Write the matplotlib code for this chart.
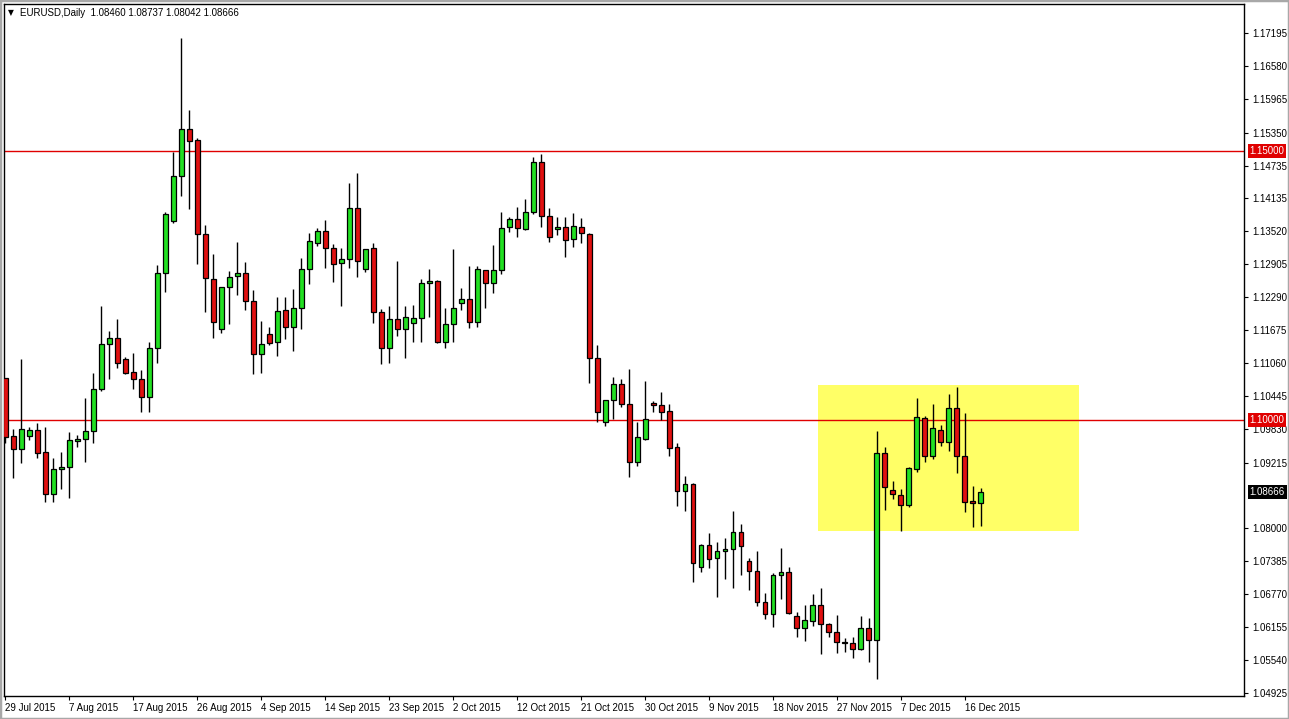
import matplotlib
matplotlib.use("Agg")
import matplotlib.pyplot as plt
import matplotlib.patches as patches
import matplotlib.transforms as mtransforms
import numpy as np

opens = [1.10787, 1.09708, 1.09467, 1.09708, 1.09820, 1.09411, 1.08630, 1.09095, 1.09132, 1.09615,
         1.09653, 1.09801, 1.10582, 1.11419, 1.11530, 1.11140, 1.10898, 1.10768, 1.10433, 1.11344,
         1.12739, 1.13705, 1.14542, 1.15416, 1.15211, 1.13464, 1.12627, 1.11698, 1.12478, 1.12683,
         1.12739, 1.12218, 1.11233, 1.11605, 1.11456, 1.12051, 1.11735, 1.12088, 1.12813, 1.13296,
         1.13520, 1.13203, 1.12925, 1.12999, 1.13947, 1.12813, 1.13203, 1.12014, 1.11344, 1.11884,
         1.11698, 1.11809, 1.11902, 1.12553, 1.12590, 1.11456, 1.11791, 1.12181, 1.12255, 1.11828,
         1.12794, 1.12553, 1.12794, 1.13594, 1.13743, 1.13557, 1.13873, 1.14802, 1.13798, 1.13557,
         1.13594, 1.13371, 1.13594, 1.13464, 1.11158, 1.09969, 1.10378, 1.10675, 1.10303, 1.09225,
         1.09653, 1.10322, 1.10285, 1.10173, 1.09504, 1.08686, 1.08816, 1.07273, 1.07682, 1.07440,
         1.07570, 1.07608, 1.07924, 1.07385, 1.07199, 1.06622, 1.06399, 1.07124, 1.07180, 1.06362,
         1.06139, 1.06269, 1.06567, 1.06213, 1.06065, 1.05879, 1.05860, 1.05748, 1.06139, 1.05916,
         1.09392, 1.08705, 1.08612, 1.08426, 1.09095, 1.10043, 1.09337, 1.09820, 1.09597, 1.10229,
         1.09337, 1.08500, 1.08460]
highs = [1.10787, 1.09839, 1.11140, 1.09876, 1.09950, 1.09876, 1.09299, 1.09411, 1.09783, 1.09727,
         1.10415, 1.10880, 1.12125, 1.11660, 1.11884, 1.11177, 1.11251, 1.10935, 1.11456, 1.12887,
         1.13873, 1.14988, 1.17108, 1.15769, 1.15248, 1.13631, 1.13092, 1.12478, 1.12776, 1.13315,
         1.12943, 1.12423, 1.11846, 1.11735, 1.12293, 1.12293, 1.12441, 1.13018, 1.13482, 1.13575,
         1.13724, 1.13278, 1.13203, 1.14412, 1.14598, 1.13185, 1.13296, 1.12069, 1.12125, 1.12962,
         1.12125, 1.12144, 1.12627, 1.12813, 1.12609, 1.12088, 1.13185, 1.12460, 1.12869, 1.12869,
         1.12794, 1.13259, 1.13873, 1.13780, 1.13966, 1.14114, 1.14895, 1.14951, 1.13947, 1.13780,
         1.13780, 1.13854, 1.13761, 1.13482, 1.11400, 1.10378, 1.10805, 1.10768, 1.10954, 1.09969,
         1.10731, 1.10360, 1.10526, 1.10303, 1.09578, 1.08965, 1.08835, 1.07701, 1.07905, 1.07738,
         1.07812, 1.08314, 1.08072, 1.07440, 1.07570, 1.06790, 1.07161, 1.07626, 1.07273, 1.06436,
         1.06567, 1.06771, 1.06883, 1.06232, 1.06381, 1.05953, 1.05972, 1.06362, 1.06325, 1.09801,
         1.09504, 1.08872, 1.08723, 1.09132, 1.10415, 1.10080, 1.10303, 1.09913, 1.10489, 1.10619,
         1.10136, 1.08779, 1.08737]
lows = [1.09578, 1.08928, 1.09206, 1.09634, 1.09299, 1.08481, 1.08481, 1.08723, 1.08556, 1.09504,
        1.09225, 1.09578, 1.10545, 1.10768, 1.10973, 1.10861, 1.10582, 1.10155, 1.10155, 1.11066,
        1.12385, 1.13668, 1.14170, 1.13929, 1.12906, 1.12014, 1.11530, 1.11623, 1.11791, 1.12330,
        1.12051, 1.10861, 1.10880, 1.11400, 1.11196, 1.11512, 1.11289, 1.11698, 1.12534, 1.13241,
        1.12832, 1.12571, 1.12125, 1.12832, 1.12664, 1.12757, 1.11809, 1.11047, 1.11066, 1.11567,
        1.11158, 1.11456, 1.11456, 1.11921, 1.11440, 1.11344, 1.11456, 1.12051, 1.11716, 1.11735,
        1.12088, 1.12367, 1.12720, 1.13501, 1.13408, 1.13538, 1.13836, 1.13594, 1.13315, 1.13445,
        1.13036, 1.13222, 1.13296, 1.10694, 1.09969, 1.09894, 1.10024, 1.10248, 1.08946, 1.09151,
        1.09634, 1.10155, 1.10006, 1.09337, 1.08407, 1.08314, 1.06994, 1.07180, 1.07254, 1.06715,
        1.07050, 1.06883, 1.07124, 1.06845, 1.06548, 1.06306, 1.06157, 1.06678, 1.06399, 1.05972,
        1.05897, 1.06176, 1.05656, 1.05972, 1.05674, 1.05693, 1.05581, 1.05730, 1.05507, 1.05191,
        1.08333, 1.08537, 1.07942, 1.08388, 1.09039, 1.09225, 1.09281, 1.09523, 1.09430, 1.09021,
        1.08295, 1.08016, 1.08042]
closes = [1.09690, 1.09467, 1.09839, 1.09820, 1.09392, 1.08630, 1.09095, 1.09132, 1.09634, 1.09653,
          1.09801, 1.10582, 1.11419, 1.11530, 1.11066, 1.10880, 1.10768, 1.10433, 1.11344, 1.12739,
          1.13836, 1.14542, 1.15416, 1.15193, 1.13464, 1.12646, 1.11828, 1.12478, 1.12664, 1.12739,
          1.12218, 1.11233, 1.11419, 1.11437, 1.12032, 1.11735, 1.12088, 1.12813, 1.13334, 1.13520,
          1.13203, 1.12906, 1.12999, 1.13947, 1.12962, 1.13185, 1.12014, 1.11344, 1.11884, 1.11698,
          1.11921, 1.11902, 1.12553, 1.12590, 1.11456, 1.11791, 1.12088, 1.12255, 1.11828, 1.12813,
          1.12553, 1.12794, 1.13575, 1.13743, 1.13575, 1.13873, 1.14802, 1.13798, 1.13408, 1.13594,
          1.13352, 1.13612, 1.13482, 1.11158, 1.10155, 1.10378, 1.10675, 1.10303, 1.09225, 1.09690,
          1.10024, 1.10285, 1.10155, 1.09485, 1.08686, 1.08816, 1.07347, 1.07682, 1.07422, 1.07570,
          1.07608, 1.07924, 1.07663, 1.07199, 1.06622, 1.06399, 1.07124, 1.07180, 1.06418, 1.06139,
          1.06288, 1.06567, 1.06213, 1.06065, 1.05879, 1.05860, 1.05748, 1.06139, 1.05916, 1.09392,
          1.08760, 1.08630, 1.08426, 1.09113, 1.10062, 1.09337, 1.09857, 1.09597, 1.10229, 1.09337,
          1.08481, 1.08463, 1.08666]

date_labels = ["29 Jul 2015", "7 Aug 2015", "17 Aug 2015", "26 Aug 2015", "4 Sep 2015",
               "14 Sep 2015", "23 Sep 2015", "2 Oct 2015", "12 Oct 2015", "21 Oct 2015",
               "30 Oct 2015", "9 Nov 2015", "18 Nov 2015", "27 Nov 2015", "7 Dec 2015",
               "16 Dec 2015"]
price_ticks = [1.17195, 1.16580, 1.15965, 1.15350, 1.14735, 1.14135, 1.13520, 1.12905, 1.12290,
               1.11675, 1.11060, 1.10445, 1.09830, 1.09215, 1.08000, 1.07385, 1.06770, 1.06155,
               1.05540, 1.04925]
niveles = [1.15000, 1.10000]
ultimo = 1.08666

# zona amarilla (indices de barra / precios)
zona_x = (101.6, 134.3)
zona_y = (1.07948, 1.10657)

VERDE = "#22e022"
ROJO = "#e01010"
LINEA = "#e00000"

plt.rcParams["font.family"] = ["Liberation Sans", "DejaVu Sans"]

fig = plt.figure(figsize=(12.89, 7.19), dpi=100)
ax = fig.add_axes([4 / 1289, 23 / 719, 1240 / 1289, 692 / 719])

n = len(opens)
x = np.arange(n)
o = np.array(opens)
h = np.array(highs)
l = np.array(lows)
c = np.array(closes)

# zona
ax.add_patch(patches.Rectangle((zona_x[0], zona_y[0]), zona_x[1] - zona_x[0], zona_y[1] - zona_y[0],
                               facecolor="#ffff66", edgecolor="none", zorder=0))

# lineas horizontales
for nv in niveles:
    ax.axhline(nv, color=LINEA, lw=1, zorder=1)

# velas
ax.vlines(x, l, h, color="black", lw=1, zorder=2)
subida = c >= o
cuerpo = np.maximum(np.abs(c - o), 0.00005)
base = np.minimum(o, c)
colores = [VERDE if s else ROJO for s in subida]
ax.bar(x, cuerpo, bottom=base, width=0.62, color=colores, edgecolor="black", linewidth=0.9, zorder=3)

ax.set_xlim(-0.16, 154.9)
ax.set_ylim(1.04875, 1.17740)

# eje de precios a la derecha
ax.yaxis.tick_right()
ax.set_yticks(price_ticks)
ax.set_yticklabels([f"{p:.5f}" for p in price_ticks])
ax.tick_params(axis="y", direction="out", length=3, width=0.8, pad=3, labelsize=7)

ax.set_xticks(np.arange(len(date_labels)) * 8)
ax.set_xticklabels(date_labels)
ax.tick_params(axis="x", direction="out", length=3, width=0.8, pad=2, labelsize=7)
for t in ax.get_xticklabels():
    t.set_horizontalalignment("left")

for s in ax.spines.values():
    s.set_linewidth(1)
    s.set_color("black")

# etiquetas de precio sobre el eje
trans = mtransforms.blended_transform_factory(ax.transAxes, ax.transData)
for nv in niveles:
    ax.annotate(f"{nv:.5f}", xy=(1, nv), xycoords=trans, xytext=(4, 0), textcoords="offset points",
                va="center", ha="left", fontsize=7, color="white",
                bbox=dict(boxstyle="square,pad=0.2", fc=LINEA, ec="none"), annotation_clip=False)
ax.annotate(f"{ultimo:.5f}", xy=(1, ultimo), xycoords=trans, xytext=(4, 0), textcoords="offset points",
            va="center", ha="left", fontsize=7, color="white",
            bbox=dict(boxstyle="square,pad=0.2", fc="black", ec="none"), annotation_clip=False)

# titulo estilo MT4
fig.text(8 / 1289, 1 - 13 / 719, "\u25bc", fontsize=5.5, va="center", ha="left",
         family=["DejaVu Sans"])
fig.text(20 / 1289, 1 - 13 / 719, "EURUSD,Daily  1.08460 1.08737 1.08042 1.08666",
         fontsize=7, va="center", ha="left")

# marco de ventana
fig.patches.append(patches.Rectangle((0, 0), 1, 1, transform=fig.transFigure, fill=False,
                                     edgecolor="#a8a8a8", lw=2.5))

fig.savefig("out.png", dpi=100)
